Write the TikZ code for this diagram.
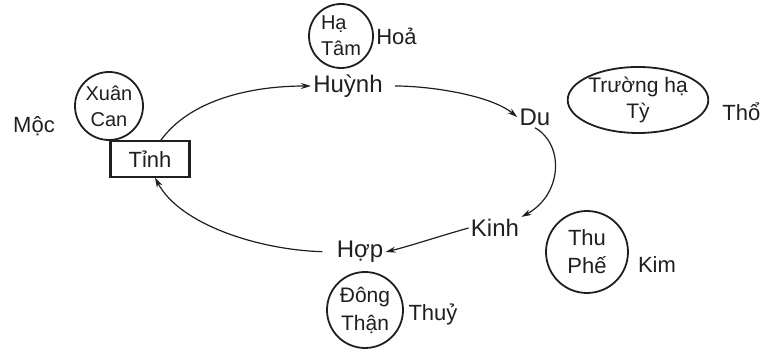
\documentclass[tikz,border=0pt]{standalone}
\usepackage{fontspec}
\setmainfont{Liberation Sans}
\usetikzlibrary{positioning,arrows.meta,shapes.geometric,calc}
\colorlet{inkdark}{black!88}

\begin{document}
\begin{tikzpicture}[x=.5pt,y=-.5pt,every node/.style={font=\fontsize{11}{13}\selectfont,inner sep=1pt,text=inkdark},
    season/.style={draw=inkdark,circle,line width=.9pt,inner sep=0pt,align=center,font=\fontsize{10}{13}\selectfont},
    flow/.style={draw=inkdark,line width=.6pt,-{Stealth[length=5pt,width=3pt]}}]
    \useasboundingbox (0,0) rectangle (761,357);
    % seasons and organs
    \node[season,minimum size=34pt] (xuancan) at (109,106) {Xuân\\Can};
    \node (moc) at (34,126) {Mộc};
    \node[season,minimum size=32pt,align=left] (hatam) at (341,36) {Hạ\\Tâm};
    \node[anchor=west] (hoa) at (hatam.east) {Hoả};
    \node[season,ellipse,minimum width=68pt,minimum height=33pt,font=\fontsize{10.5}{13}\selectfont] (truongha) at (638,100) {Trường hạ\\Tỳ};
    \node[anchor=west] (tho) at (720,112) {Thổ};
    \node[season,minimum size=41pt,font=\fontsize{11}{14}\selectfont] (thuphe) at (587,252) {Thu\\Phế};
    \node (kim) at (657,265) {Kim};
    \node[season,minimum size=38pt,font=\fontsize{10.5}{14}\selectfont] (dongthan) at (365,310) {Đông\\Thận};
    \node (thuy) at (433,314) {Thuỷ};
    % the five points
    \node[draw=inkdark,line width=.6pt,minimum width=39pt,minimum height=18pt] (tinh) at (150,159) {Tỉnh};
    \draw[inkdark,line width=1.6pt] (tinh.north west) -- (tinh.south west); \draw[inkdark,line width=1.6pt] (tinh.north east) -- (tinh.south east);
    \node[font=\fontsize{12}{14}\selectfont] (huynh) at (348,86) {Huỳnh};
    \node[font=\fontsize{12}{14}\selectfont] (du) at (535,117) {Du};
    \node[font=\fontsize{12}{14}\selectfont] (kinh) at (495,228) {Kinh};
    \node[font=\fontsize{12}{14}\selectfont] (hop) at (360,252) {Hợp};
    \draw[flow] (tinh.60) .. controls (190,100) and (250,86) .. (huynh.west);
    \draw[flow,shorten <=5pt] (huynh.east) .. controls (430,86) and (490,95) .. (du.west);
    \draw[flow] (du.south) .. controls (565,145) and (562,195) .. (kinh.north east);
    \draw[flow] (kinh.west) .. controls (440,236) and (410,246) .. (hop.east);
    \draw[flow,shorten <=6pt] (hop.west) .. controls (260,250) and (180,225) .. (tinh.-75);
\end{tikzpicture}
\end{document}
